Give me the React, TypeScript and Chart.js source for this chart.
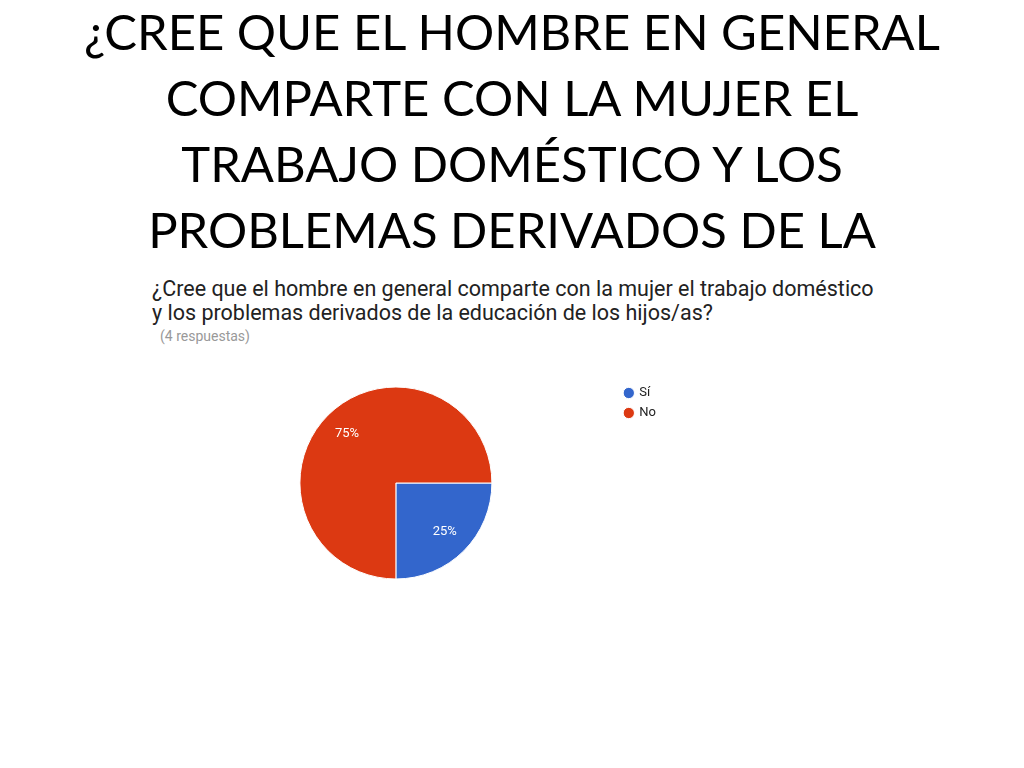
import React, { useEffect, useRef } from "react";
import { Chart, registerables } from "chart.js";

Chart.register(...registerables);

const slideTitle = [
  "¿CREE QUE EL HOMBRE EN GENERAL",
  "COMPARTE CON LA MUJER EL",
  "TRABAJO DOMÉSTICO Y LOS",
  "PROBLEMAS DERIVADOS DE LA",
];
const question = [
  "¿Cree que el hombre en general comparte con la mujer el trabajo doméstico",
  "y los problemas derivados de la educación de los hijos/as?",
];
const responsesNote = "(4 respuestas)";

const answers = ["Sí", "No"];
const counts = [1, 3];
const sliceColors = ["#3366cc", "#dc3912"];

// percentage labels placed inside each slice, like Google Forms does
const percentLabels = {
  id: "percentLabels",
  afterDatasetsDraw(chart: any) {
    const { ctx } = chart;
    const meta = chart.getDatasetMeta(0);
    const values = chart.data.datasets[0].data as number[];
    const total = values.reduce((a, b) => a + b, 0);
    ctx.save();
    ctx.font = "13px Roboto";
    ctx.fillStyle = "#ffffff";
    ctx.textAlign = "center";
    ctx.textBaseline = "middle";
    meta.data.forEach((arc: any, i: number) => {
      const { x, y, startAngle, endAngle, outerRadius } = arc.getProps(
        ["x", "y", "startAngle", "endAngle", "outerRadius"],
        true
      );
      const mid = (startAngle + endAngle) / 2;
      const r = outerRadius * 0.72;
      const pct = Math.round((values[i] / total) * 100) + "%";
      ctx.fillText(pct, x + Math.cos(mid) * r, y + Math.sin(mid) * r);
    });
    ctx.restore();
  },
};

const PieChart = () => {
  const chartRef = useRef<HTMLCanvasElement | null>(null);

  useEffect(() => {
    const ctx = chartRef.current?.getContext("2d");
    if (!ctx) return;

    const myChart = new Chart(ctx, {
      type: "pie",
      data: {
        labels: answers,
        datasets: [
          {
            data: counts,
            backgroundColor: sliceColors,
            borderColor: "#ffffff",
            borderWidth: 1,
          },
        ],
      },
      options: {
        responsive: false,
        animation: false,
        rotation: 90,
        radius: 96,
        layout: { padding: { top: 9.5, bottom: 9.5, left: 0, right: 0 } },
        plugins: {
          legend: {
            position: "right",
            align: "start",
            labels: {
              usePointStyle: true,
              pointStyle: "circle",
              boxWidth: 8,
              boxHeight: 8,
              padding: 7,
              color: "#222222",
              font: { family: "Roboto", size: 13 },
            },
          },
          tooltip: { enabled: false },
        },
      },
      plugins: [percentLabels],
    });

    // clean up on unmount
    return () => {
      myChart.destroy();
    };
  }, []);

  return (
    <canvas
      ref={chartRef}
      width={492}
      height={226}
      style={{ position: "absolute", left: 174, top: 370 }}
    ></canvas>
  );
};

const App = () => {
  return (
    <div
      style={{
        position: "absolute",
        left: 0,
        top: 0,
        width: 1024,
        height: 768,
        background: "#ffffff",
        overflow: "hidden",
      }}
    >
      <div
        style={{
          position: "absolute",
          left: 0,
          top: -2,
          width: 1024,
          textAlign: "center",
          fontFamily: "Lato, 'Open Sans', sans-serif",
          fontSize: 49,
          lineHeight: "66px",
          color: "#000000",
        }}
      >
        {slideTitle.map((line) => (
          <div key={line}>{line}</div>
        ))}
      </div>
      <div
        style={{
          position: "absolute",
          left: 140,
          top: 262,
          width: 760,
          height: 340,
          background: "#ffffff",
        }}
      >
        <div
          style={{
            position: "absolute",
            left: 12,
            top: 15,
            fontFamily: "Roboto, sans-serif",
            fontSize: 21.5,
            lineHeight: "24px",
            color: "#222222",
            whiteSpace: "nowrap",
          }}
        >
          {question.map((line) => (
            <div key={line}>{line}</div>
          ))}
        </div>
        <div
          style={{
            position: "absolute",
            left: 20,
            top: 66,
            fontFamily: "Roboto, sans-serif",
            fontSize: 14,
            lineHeight: "16px",
            color: "#999999",
          }}
        >
          {responsesNote}
        </div>
      </div>
      <PieChart />
    </div>
  );
};

export default App;
